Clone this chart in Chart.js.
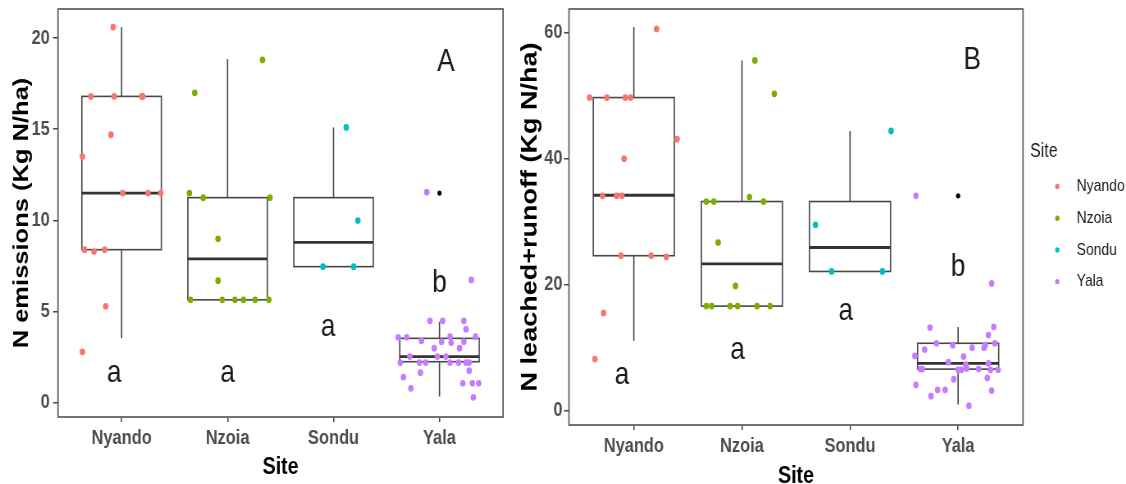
<!DOCTYPE html>
<html>
<head>
<meta charset="utf-8">
<script src="https://cdn.jsdelivr.net/npm/chart.js@4.4.1/dist/chart.umd.min.js"></script>
<style>
  html, body { margin: 0; padding: 0; background: #fff; overflow: hidden; }
  #wrap { position: relative; width: 1126px; height: 484px; overflow: hidden; background: #fff; }
  canvas { position: absolute; top: 0; transform-origin: 0 0; }
  /* panels are laid out wide and set in a condensed figure */
  #emis { left: 0; transform: scaleX(0.82051); }
  #leach { left: 512px; transform: scaleX(0.81976); }
</style>
</head>
<body>
<div id="wrap">
  <canvas id="emis" width="624" height="490"></canvas>
  <canvas id="leach" width="749" height="490"></canvas>
</div>
<script>
// ---- data ----
const sites = ['Nyando', 'Nzoia', 'Sondu', 'Yala'];
const siteColors = ['#F8766D', '#7CAE00', '#00BFC4', '#C77CFF'];

// Panel A: N emissions (Kg N/ha). Observations as [jitter offset, value]
const emisNyando = [[-0.08,20.6],[-0.29,16.8],[-0.07,16.8],[0.19,16.8],[0.20,16.8],[-0.10,14.7],[-0.37,13.5],
  [0.01,11.5],[0.25,11.5],[0.37,11.5],[-0.35,8.4],[-0.26,8.3],[-0.16,8.4],[-0.15,5.3],[-0.37,2.8]];
const emisNzoia = [[0.33,18.8],[-0.31,17.0],[-0.36,11.5],[-0.23,11.25],[0.40,11.25],[-0.09,9.0],[-0.09,6.7],
  [-0.35,5.65],[-0.05,5.65],[0.07,5.65],[0.15,5.65],[0.26,5.65],[0.39,5.65]];
const emisSondu = [[0.12,15.1],[0.23,10.0],[-0.10,7.47],[0.19,7.47]];
const emisYala = [[-0.12,11.55],[0.30,6.74],[-0.09,4.5],[0.03,4.5],[0.23,4.5],[0.25,4.04],[-0.39,3.6],[-0.31,3.6],
  [-0.17,3.41],[0.02,3.36],[0.10,3.63],[0.11,3.3],[0.23,3.36],[0.34,3.63],[-0.05,3.0],[0.19,3.0],
  [-0.28,2.54],[-0.02,2.54],[0.06,2.54],[-0.37,2.21],[-0.19,2.21],[-0.13,2.21],[0.10,2.21],[0.18,2.21],
  [0.25,2.21],[0.28,2.21],[0.28,1.77],[-0.18,1.66],[-0.34,1.41],[0.22,1.08],[0.31,1.08],[0.37,1.08],
  [-0.27,0.8],[0.32,0.31]];
// [lower whisker, Q1, median, Q3, upper whisker]
const emisBoxes = [[3.55,8.4,11.5,16.8,20.6],[5.65,5.65,7.9,11.25,18.85],[7.47,7.47,8.8,11.25,15.1],[0.35,2.26,2.54,3.54,4.45]];
const emisOutliers = [[4, 11.5]];
const emisTicks = [0, 5, 10, 15, 20];
const emisRange = [-0.77, 21.59];
const emisLetters = [[0.93,1.62,'a'],[2.0,1.62,'a'],[2.95,4.18,'a'],[4.0,6.55,'b'],[4.06,18.7,'A']];

// Panel B: N leached + runoff (Kg N/ha)
const leachNyando = [[0.21,60.6],[-0.41,49.7],[-0.25,49.7],[-0.08,49.7],[-0.03,49.7],[0.40,43.1],[-0.09,40.0],
  [-0.29,34.1],[-0.16,34.1],[-0.11,34.1],[-0.12,24.6],[0.16,24.6],[0.30,24.4],[-0.28,15.5],[-0.36,8.2]];
const leachNzoia = [[0.12,55.6],[0.30,50.3],[0.07,33.9],[-0.33,33.2],[-0.26,33.2],[0.20,33.2],[-0.22,26.7],[-0.06,19.8],
  [-0.33,16.6],[-0.28,16.6],[-0.11,16.6],[-0.04,16.6],[0.14,16.6],[0.26,16.6]];
const leachSondu = [[0.38,44.4],[-0.32,29.5],[-0.17,22.1],[0.30,22.1]];
const leachYala = [[-0.39,34.1],[0.31,20.2],[0.33,13.3],[-0.26,13.2],[0.28,12.0],[-0.20,10.7],[-0.05,10.4],[0.13,10.0],
  [0.24,10.0],[0.25,10.4],[0.34,10.7],[-0.31,9.7],[-0.40,8.7],[0.05,8.6],[-0.09,7.7],[0.07,7.3],[0.28,7.5],
  [-0.35,6.6],[-0.33,6.6],[0.00,6.5],[0.03,6.5],[0.08,6.7],[0.19,6.6],[0.30,6.5],[0.37,6.5],[-0.04,5.0],
  [0.27,5.2],[-0.39,4.1],[-0.19,3.3],[-0.12,3.3],[-0.25,2.3],[0.31,3.2],[0.10,0.8]];
const leachBoxes = [[11.1,24.6,34.2,49.7,60.9],[16.6,16.6,23.3,33.2,55.6],[22.1,22.1,25.9,33.2,44.4],[1.0,6.6,7.5,10.7,13.3]];
const leachOutliers = [[4, 34.1]];
const leachTicks = [0, 20, 40, 60];
const leachRange = [-2.27, 63.76];
const leachLetters = [[0.89,5.6,'a'],[1.96,9.6,'a'],[2.96,15.8,'a'],[4.0,22.8,'b'],[4.13,55.6,'B']];

// ---- styling ----
const FONT = "'Liberation Sans', Arial, Helvetica, sans-serif";
const BOX_HALF = 0.375;

// boxes and whiskers, drawn beneath the jittered points
const boxPlugin = {
  id: 'siteBoxes',
  beforeDatasetsDraw(chart, args, opts) {
    const { ctx, scales: { x, y } } = chart;
    ctx.save();
    opts.stats.forEach((s, i) => {
      const cx = x.getPixelForValue(i + 1);
      const l = x.getPixelForValue(i + 1 - BOX_HALF);
      const r = x.getPixelForValue(i + 1 + BOX_HALF);
      const [lo, q1, med, q3, hi] = s.map(v => y.getPixelForValue(v));
      ctx.strokeStyle = '#474747';
      ctx.lineWidth = 1.6;
      ctx.beginPath();
      ctx.moveTo(cx, hi); ctx.lineTo(cx, q3);
      ctx.moveTo(cx, q1); ctx.lineTo(cx, lo);
      ctx.stroke();
      ctx.fillStyle = '#fff';
      ctx.fillRect(l, q3, r - l, q1 - q3);
      ctx.strokeRect(l, q3, r - l, q1 - q3);
      ctx.strokeStyle = '#333';
      ctx.lineWidth = 2.8;
      ctx.beginPath();
      ctx.moveTo(l, med); ctx.lineTo(r, med);
      ctx.stroke();
    });
    ctx.restore();
  }
};

// group letters
const letterPlugin = {
  id: 'groupLetters',
  afterDatasetsDraw(chart, args, opts) {
    const { ctx, scales: { x, y } } = chart;
    ctx.save();
    ctx.font = '32px ' + FONT;
    ctx.fillStyle = '#1a1a1a';
    ctx.textAlign = 'center';
    ctx.textBaseline = 'middle';
    opts.items.forEach(([vx, vy, t]) => ctx.fillText(t, x.getPixelForValue(vx), y.getPixelForValue(vy)));
    ctx.restore();
  }
};

// panel frame
const framePlugin = {
  id: 'panelFrame',
  afterDraw(chart) {
    const { ctx, chartArea: a } = chart;
    ctx.save();
    ctx.strokeStyle = '#5a5a5a';
    ctx.lineWidth = 1.7;
    ctx.strokeRect(a.left, a.top, a.right - a.left, a.bottom - a.top);
    ctx.restore();
  }
};

// site legend at the right of panel B
const siteLegend = {
  id: 'siteLegend',
  afterDraw(chart, args, opts) {
    const { ctx } = chart;
    const items = chart.data.datasets.filter(d => sites.includes(d.label));
    ctx.save();
    ctx.textBaseline = 'middle';
    ctx.textAlign = 'left';
    ctx.fillStyle = '#1a1a1a';
    ctx.font = '19.5px ' + FONT;
    ctx.fillText(opts.title, opts.x, opts.y);
    ctx.font = '17px ' + FONT;
    items.forEach((d, i) => {
      const yy = opts.y + opts.first + i * opts.step;
      ctx.fillStyle = d.backgroundColor;
      ctx.beginPath();
      ctx.arc(opts.x + opts.dot, yy, 2.7, 0, Math.PI * 2);
      ctx.fill();
      ctx.fillStyle = '#1a1a1a';
      ctx.fillText(d.label, opts.x + opts.text, yy);
    });
    ctx.restore();
  }
};

function siteDatasets(groups, outliers) {
  const ds = groups.map((pts, i) => ({
    label: sites[i],
    data: pts.map(([dx, v]) => ({ x: i + 1 + dx, y: v })),
    backgroundColor: siteColors[i],
    borderWidth: 0,
    pointRadius: 3.35,
    order: 1
  }));
  ds.push({
    label: 'outlier',
    data: outliers.map(([cx, v]) => ({ x: cx, y: v })),
    backgroundColor: '#000',
    borderWidth: 0,
    pointRadius: 2.6,
    order: 5
  });
  return ds;
}

function makeChart(id, cfg) {
  return new Chart(document.getElementById(id), {
    type: 'scatter',
    data: { datasets: siteDatasets(cfg.groups, cfg.outliers) },
    options: {
      responsive: false,
      animation: false,
      devicePixelRatio: 1,
      layout: { padding: cfg.padding },
      plugins: {
        legend: { display: false },
        tooltip: { enabled: false },
        siteBoxes: { stats: cfg.boxes },
        groupLetters: { items: cfg.letters },
        siteLegend: cfg.legend || {}
      },
      scales: {
        x: {
          type: 'linear', min: 0.4, max: 4.6,
          afterBuildTicks: s => { s.ticks = sites.map((_, i) => ({ value: i + 1 })); },
          afterFit: s => { s.height = cfg.xHeight; s.paddingLeft = 0; s.paddingRight = 0; },
          ticks: {
            callback: v => sites[Math.round(v) - 1],
            font: { family: FONT, size: 20, weight: 'bold' },
            color: '#4d4d4d', padding: 4, maxRotation: 0, autoSkip: false
          },
          grid: { drawOnChartArea: false, drawTicks: true, tickLength: 5, color: '#444', lineWidth: 1.5 },
          border: { display: false },
          title: {
            display: true, text: 'Site', color: '#000',
            font: { family: FONT, size: 24, weight: 'bold', lineHeight: 1 },
            padding: { top: 0, bottom: 0 }
          }
        },
        y: {
          type: 'linear', min: cfg.range[0], max: cfg.range[1],
          afterBuildTicks: s => { s.ticks = cfg.ticks.map(v => ({ value: v })); },
          afterFit: s => { s.width = cfg.yWidth; s.paddingTop = 0; s.paddingBottom = 0; },
          ticks: {
            font: { family: FONT, size: 20, weight: 'bold' },
            color: '#4d4d4d', padding: cfg.yTickPad
          },
          grid: { drawOnChartArea: false, drawTicks: true, tickLength: 6, color: '#444', lineWidth: 1.5 },
          border: { display: false },
          title: {
            display: true, text: cfg.yTitle, color: '#000',
            font: { family: FONT, size: cfg.yTitleSize, weight: 'bold', lineHeight: 1.2 },
            padding: { top: cfg.yTitlePad, bottom: 0 }
          }
        }
      }
    },
    plugins: cfg.plugins
  });
}

makeChart('emis', {
  groups: [emisNyando, emisNzoia, emisSondu, emisYala],
  outliers: emisOutliers, boxes: emisBoxes, letters: emisLetters,
  ticks: emisTicks, range: emisRange,
  yTitle: 'N emissions (Kg N/ha)', yTitleSize: 25.5, yTitlePad: 12, yTickPad: 4,
  padding: { left: 0, top: 9, right: 10.9, bottom: 11 },
  xHeight: 62, yWidth: 70.7,
  plugins: [boxPlugin, letterPlugin, framePlugin]
});

makeChart('leach', {
  groups: [leachNyando, leachNzoia, leachSondu, leachYala],
  outliers: leachOutliers, boxes: leachBoxes, letters: leachLetters,
  ticks: leachTicks, range: leachRange,
  yTitle: 'N leached+runoff (Kg N/ha)', yTitleSize: 27, yTitlePad: 6.7, yTickPad: 2,
  padding: { left: 0, top: 9, right: 125.7, bottom: 2 },
  xHeight: 63, yWidth: 69.5,
  legend: { title: 'Site', x: 631.9, y: 152, first: 34.5, step: 31.7, dot: 33.3, text: 56.9 },
  plugins: [boxPlugin, letterPlugin, framePlugin, siteLegend]
});
</script>
</body>
</html>
